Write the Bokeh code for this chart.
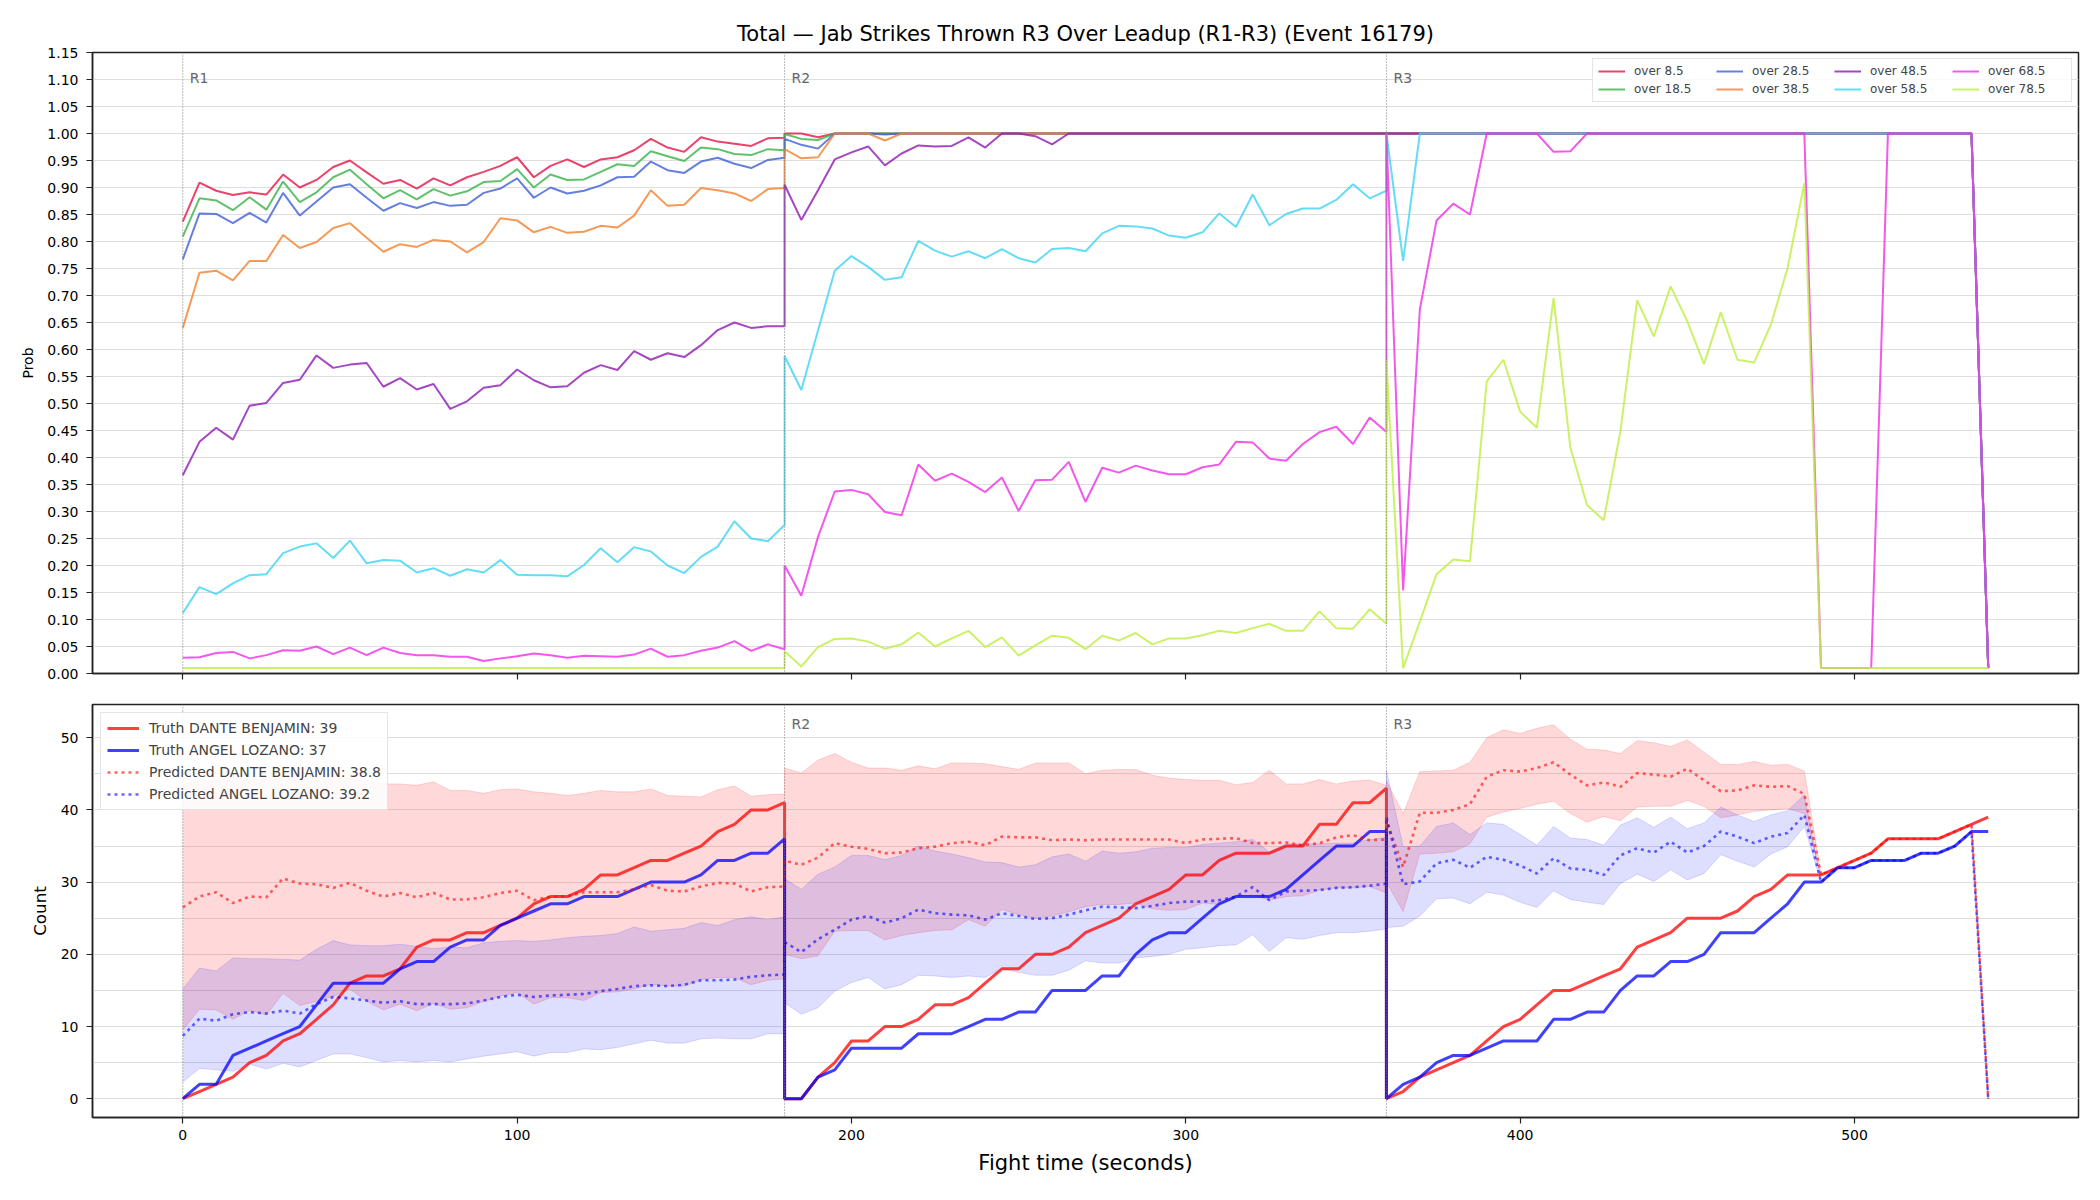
from bokeh.plotting import figure
from bokeh.models import (Range1d, FixedTicker, Span, Label, Legend, LegendItem,
                          NumeralTickFormatter)
from bokeh.layouts import column
from bokeh.embed import file_html
from bokeh.resources import INLINE

FONT = "DejaVu Sans"

# ---------------- time grid (5 s sampling, each round 180 s) ----------------
t_r1 = list(range(0, 181, 5))
t_r2 = list(range(180, 361, 5))
t_r3 = list(range(360, 541, 5))
t_all = t_r1 + t_r2 + t_r3

round_starts = [0, 180, 360]
round_names = ["R1", "R2", "R3"]
x_ticks = [0, 100, 200, 300, 400, 500]
prob_ticks = [0.00, 0.05, 0.10, 0.15, 0.20, 0.25, 0.30, 0.35, 0.40, 0.45, 0.50, 0.55,
              0.60, 0.65, 0.70, 0.75, 0.80, 0.85, 0.90, 0.95, 1.00, 1.05, 1.10, 1.15]
count_ticks = [0, 10, 20, 30, 40, 50]
count_minor = [0, 5, 10, 15, 20, 25, 30, 35, 40, 45, 50]

# ---------------- top panel: probabilities ----------------
line_names = ["over 8.5", "over 18.5", "over 28.5", "over 38.5",
              "over 48.5", "over 58.5", "over 68.5", "over 78.5"]
line_colors = ["#e6194b", "#3cb44b", "#4363d8", "#f58231",
               "#911eb4", "#42d4f4", "#f032e6", "#bfef45"]

o85_r1 = [0.837, 0.909, 0.894, 0.886, 0.891, 0.887, 0.924, 0.900, 0.914, 0.938, 0.950, 0.928,
          0.907, 0.914, 0.898, 0.917, 0.904, 0.919, 0.929, 0.940, 0.956, 0.919, 0.940, 0.952,
          0.938, 0.952, 0.956, 0.969, 0.990, 0.974, 0.966, 0.993, 0.985, 0.981, 0.977, 0.991, 0.992]
o85_r2 = [1.000, 1.000, 0.993, 1.000, 1.000, 1.000, 1.000, 1.000, 1.000, 1.000, 1.000, 1.000,
          1.000, 1.000, 1.000, 1.000, 1.000, 1.000, 1.000, 1.000, 1.000, 1.000, 1.000, 1.000,
          1.000, 1.000, 1.000, 1.000, 1.000, 1.000, 1.000, 1.000, 1.000, 1.000, 1.000, 1.000, 1.000]
o85_r3 = [1.000, 1.000, 1.000, 1.000, 1.000, 1.000, 1.000, 1.000, 1.000, 1.000, 1.000, 1.000,
          1.000, 1.000, 1.000, 1.000, 1.000, 1.000, 1.000, 1.000, 1.000, 1.000, 1.000, 1.000,
          1.000, 1.000, 1.000, 1.000, 1.000, 1.000, 1.000, 1.000, 1.000, 1.000, 1.000, 1.000, 0.010]

o185_r1 = [0.809, 0.880, 0.876, 0.858, 0.882, 0.859, 0.911, 0.873, 0.891, 0.919, 0.933, 0.906,
           0.880, 0.895, 0.878, 0.897, 0.885, 0.893, 0.910, 0.912, 0.934, 0.900, 0.924, 0.914,
           0.915, 0.929, 0.943, 0.940, 0.967, 0.958, 0.949, 0.974, 0.971, 0.962, 0.960, 0.971, 0.969]
o185_r2 = [0.999, 0.990, 0.988, 1.000, 1.000, 1.000, 1.000, 1.000, 1.000, 1.000, 1.000, 1.000,
           1.000, 1.000, 1.000, 1.000, 1.000, 1.000, 1.000, 1.000, 1.000, 1.000, 1.000, 1.000,
           1.000, 1.000, 1.000, 1.000, 1.000, 1.000, 1.000, 1.000, 1.000, 1.000, 1.000, 1.000, 1.000]
o185_r3 = [1.000, 1.000, 1.000, 1.000, 1.000, 1.000, 1.000, 1.000, 1.000, 1.000, 1.000, 1.000,
           1.000, 1.000, 1.000, 1.000, 1.000, 1.000, 1.000, 1.000, 1.000, 1.000, 1.000, 1.000,
           1.000, 1.000, 1.000, 1.000, 1.000, 1.000, 1.000, 1.000, 1.000, 1.000, 1.000, 1.000, 0.010]

o285_r1 = [0.767, 0.852, 0.851, 0.834, 0.853, 0.835, 0.890, 0.848, 0.874, 0.900, 0.906, 0.881,
           0.857, 0.871, 0.862, 0.873, 0.866, 0.868, 0.890, 0.898, 0.917, 0.881, 0.900, 0.889,
           0.894, 0.904, 0.919, 0.920, 0.948, 0.932, 0.927, 0.948, 0.955, 0.944, 0.936, 0.951, 0.955]
o285_r2 = [0.990, 0.979, 0.972, 1.000, 1.000, 1.000, 0.998, 1.000, 1.000, 1.000, 1.000, 1.000,
           1.000, 1.000, 1.000, 1.000, 1.000, 1.000, 1.000, 1.000, 1.000, 1.000, 1.000, 1.000,
           1.000, 1.000, 1.000, 1.000, 1.000, 1.000, 1.000, 1.000, 1.000, 1.000, 1.000, 1.000, 1.000]
o285_r3 = [1.000, 1.000, 1.000, 1.000, 1.000, 1.000, 1.000, 1.000, 1.000, 1.000, 1.000, 1.000,
           1.000, 1.000, 1.000, 1.000, 1.000, 1.000, 1.000, 1.000, 1.000, 1.000, 1.000, 1.000,
           1.000, 1.000, 1.000, 1.000, 1.000, 1.000, 1.000, 1.000, 1.000, 1.000, 1.000, 1.000, 0.010]

o385_r1 = [0.640, 0.742, 0.746, 0.728, 0.764, 0.764, 0.812, 0.788, 0.799, 0.825, 0.834, 0.807,
           0.781, 0.795, 0.790, 0.803, 0.800, 0.780, 0.799, 0.843, 0.839, 0.817, 0.827, 0.816,
           0.818, 0.829, 0.826, 0.848, 0.895, 0.866, 0.868, 0.899, 0.895, 0.889, 0.875, 0.897, 0.899]
o385_r2 = [0.971, 0.954, 0.956, 1.000, 1.000, 1.000, 0.987, 1.000, 1.000, 1.000, 1.000, 1.000,
           1.000, 1.000, 1.000, 1.000, 1.000, 1.000, 1.000, 1.000, 1.000, 1.000, 1.000, 1.000,
           1.000, 1.000, 1.000, 1.000, 1.000, 1.000, 1.000, 1.000, 1.000, 1.000, 1.000, 1.000, 1.000]
o385_r3 = [1.000, 1.000, 1.000, 1.000, 1.000, 1.000, 1.000, 1.000, 1.000, 1.000, 1.000, 1.000,
           1.000, 1.000, 1.000, 1.000, 1.000, 1.000, 1.000, 1.000, 1.000, 1.000, 1.000, 1.000,
           1.000, 1.000, 1.000, 1.000, 1.000, 1.000, 1.000, 1.000, 1.000, 1.000, 1.000, 1.000, 0.010]

o485_r1 = [0.367, 0.429, 0.455, 0.433, 0.496, 0.501, 0.538, 0.544, 0.589, 0.566, 0.572, 0.575,
           0.531, 0.547, 0.526, 0.536, 0.490, 0.504, 0.529, 0.534, 0.563, 0.543, 0.530, 0.532,
           0.557, 0.571, 0.562, 0.597, 0.581, 0.593, 0.586, 0.608, 0.636, 0.650, 0.640, 0.643, 0.643]
o485_r2 = [0.905, 0.840, 0.895, 0.952, 0.965, 0.976, 0.941, 0.963, 0.978, 0.976, 0.977, 0.993,
           0.974, 1.000, 1.000, 0.995, 0.980, 1.000, 1.000, 1.000, 1.000, 1.000, 1.000, 1.000,
           1.000, 1.000, 1.000, 1.000, 1.000, 1.000, 1.000, 1.000, 1.000, 1.000, 1.000, 1.000, 1.000]
o485_r3 = [1.000, 1.000, 1.000, 1.000, 1.000, 1.000, 1.000, 1.000, 1.000, 1.000, 1.000, 1.000,
           1.000, 1.000, 1.000, 1.000, 1.000, 1.000, 1.000, 1.000, 1.000, 1.000, 1.000, 1.000,
           1.000, 1.000, 1.000, 1.000, 1.000, 1.000, 1.000, 1.000, 1.000, 1.000, 1.000, 1.000, 0.010]

o585_r1 = [0.112, 0.160, 0.147, 0.167, 0.182, 0.184, 0.223, 0.235, 0.241, 0.214, 0.246, 0.204,
           0.210, 0.209, 0.187, 0.195, 0.181, 0.193, 0.187, 0.210, 0.183, 0.182, 0.182, 0.180,
           0.201, 0.232, 0.206, 0.234, 0.226, 0.200, 0.186, 0.216, 0.235, 0.282, 0.250, 0.245, 0.275]
o585_r2 = [0.588, 0.525, 0.635, 0.746, 0.773, 0.753, 0.729, 0.734, 0.801, 0.783, 0.772, 0.782,
           0.769, 0.786, 0.769, 0.761, 0.786, 0.788, 0.782, 0.815, 0.829, 0.828, 0.824, 0.811,
           0.807, 0.817, 0.852, 0.827, 0.887, 0.830, 0.851, 0.861, 0.861, 0.877, 0.906, 0.880, 0.894]
o585_r3 = [1.000, 0.764, 1.000, 1.000, 1.000, 1.000, 1.000, 1.000, 1.000, 1.000, 1.000, 1.000,
           1.000, 1.000, 1.000, 1.000, 1.000, 1.000, 1.000, 1.000, 1.000, 1.000, 1.000, 1.000,
           1.000, 1.000, 1.000, 1.000, 1.000, 1.000, 1.000, 1.000, 1.000, 1.000, 1.000, 1.000, 0.010]

o685_r1 = [0.029, 0.030, 0.038, 0.040, 0.028, 0.034, 0.043, 0.042, 0.050, 0.036, 0.048, 0.034,
           0.048, 0.038, 0.034, 0.034, 0.031, 0.031, 0.023, 0.028, 0.032, 0.037, 0.034, 0.029,
           0.033, 0.032, 0.031, 0.035, 0.046, 0.031, 0.034, 0.042, 0.048, 0.060, 0.042, 0.054, 0.045]
o685_r2 = [0.200, 0.144, 0.253, 0.337, 0.340, 0.332, 0.299, 0.293, 0.387, 0.357, 0.370, 0.355,
           0.336, 0.363, 0.301, 0.358, 0.359, 0.392, 0.318, 0.381, 0.372, 0.385, 0.376, 0.369,
           0.369, 0.382, 0.387, 0.429, 0.428, 0.398, 0.394, 0.425, 0.447, 0.457, 0.425, 0.474, 0.447]
o685_r3 = [1.000, 0.154, 0.674, 0.839, 0.870, 0.850, 1.000, 1.000, 1.000, 1.000, 0.966, 0.967,
           1.000, 1.000, 1.000, 1.000, 1.000, 1.000, 1.000, 1.000, 1.000, 1.000, 1.000, 1.000,
           1.000, 1.000, 0.010, 0.010, 0.010, 0.010, 1.000, 1.000, 1.000, 1.000, 1.000, 1.000, 0.010]

o785_r1 = [0.010, 0.010, 0.010, 0.010, 0.010, 0.010, 0.010, 0.010, 0.010, 0.010, 0.010, 0.010,
           0.010, 0.010, 0.010, 0.010, 0.010, 0.010, 0.010, 0.010, 0.010, 0.010, 0.010, 0.010,
           0.010, 0.010, 0.010, 0.010, 0.010, 0.010, 0.010, 0.010, 0.010, 0.010, 0.010, 0.010, 0.010]
o785_r2 = [0.041, 0.013, 0.049, 0.064, 0.065, 0.059, 0.046, 0.054, 0.076, 0.050, 0.065, 0.079,
           0.049, 0.067, 0.033, 0.052, 0.070, 0.066, 0.045, 0.070, 0.061, 0.075, 0.054, 0.065,
           0.065, 0.071, 0.079, 0.075, 0.084, 0.092, 0.079, 0.079, 0.115, 0.084, 0.083, 0.119, 0.092]
o785_r3 = [0.580, 0.010, 0.096, 0.184, 0.211, 0.208, 0.541, 0.581, 0.485, 0.455, 0.695, 0.419,
           0.312, 0.284, 0.449, 0.691, 0.624, 0.717, 0.652, 0.573, 0.669, 0.581, 0.576, 0.646,
           0.751, 0.908, 0.010, 0.010, 0.010, 0.010, 0.010, 0.010, 0.010, 0.010, 0.010, 0.010, 0.010]

prob_series = [o85_r1 + o85_r2 + o85_r3, o185_r1 + o185_r2 + o185_r3,
               o285_r1 + o285_r2 + o285_r3, o385_r1 + o385_r2 + o385_r3,
               o485_r1 + o485_r2 + o485_r3, o585_r1 + o585_r2 + o585_r3,
               o685_r1 + o685_r2 + o685_r3, o785_r1 + o785_r2 + o785_r3]

# ---------------- bottom panel: counts ----------------
truth_dante_r1 = [0, 1, 2, 3, 5, 6, 8, 9, 11, 13, 16, 17, 17, 18, 21, 22, 22, 23, 23, 24, 25, 27,
                  28, 28, 29, 31, 31, 32, 33, 33, 34, 35, 37, 38, 40, 40, 41]
truth_dante_r2 = [0, 0, 3, 5, 8, 8, 10, 10, 11, 13, 13, 14, 16, 18, 18, 20, 20, 21, 23, 24, 25, 27,
                  28, 29, 31, 31, 33, 34, 34, 34, 35, 35, 38, 38, 41, 41, 43]
truth_dante_r3 = [0, 1, 3, 4, 5, 6, 8, 10, 11, 13, 15, 15, 16, 17, 18, 21, 22, 23, 25, 25, 25, 26,
                  28, 29, 31, 31, 31, 32, 33, 34, 36, 36, 36, 36, 37, 38, 39]

truth_angel_r1 = [0, 2, 2, 6, 7, 8, 9, 10, 13, 16, 16, 16, 16, 18, 19, 19, 21, 22, 22, 24, 25, 26,
                  27, 27, 28, 28, 28, 29, 30, 30, 30, 31, 33, 33, 34, 34, 36]
truth_angel_r2 = [0, 0, 3, 4, 7, 7, 7, 7, 9, 9, 9, 10, 11, 11, 12, 12, 15, 15, 15, 17, 17, 20,
                  22, 23, 23, 25, 27, 28, 28, 28, 29, 31, 33, 35, 35, 37, 37]
truth_angel_r3 = [0, 2, 3, 5, 6, 6, 7, 8, 8, 8, 11, 11, 12, 12, 15, 17, 17, 19, 19, 20, 23, 23,
                  23, 25, 27, 30, 30, 32, 32, 33, 33, 33, 34, 34, 35, 37, 37]

pred_dante_r1 = [26.5, 28.0, 28.6, 27.1, 28.0, 27.9, 30.5, 29.8, 29.7, 29.2, 29.9, 28.8, 28.0,
                 28.5, 27.9, 28.5, 27.6, 27.6, 27.9, 28.5, 28.8, 27.5, 28.0, 28.0, 28.6, 28.6,
                 28.6, 29.0, 29.6, 28.8, 28.7, 29.4, 29.9, 29.8, 28.7, 29.3, 29.4]
pred_dante_r2 = [33.0, 32.4, 33.4, 35.4, 34.9, 34.6, 34.0, 34.1, 34.7, 34.9, 35.4, 35.6, 35.1,
                 36.3, 36.2, 36.2, 35.8, 35.9, 35.8, 35.9, 35.9, 35.9, 35.9, 35.9, 35.4, 35.9,
                 36.0, 36.1, 35.4, 35.4, 35.5, 35.1, 35.4, 36.2, 36.5, 35.8, 35.9]
pred_dante_r3 = [38.5, 32.1, 39.6, 39.6, 40.0, 40.8, 44.6, 45.5, 45.3, 45.8, 46.6, 44.9, 43.4,
                 43.8, 43.2, 45.1, 44.9, 44.6, 45.7, 44.1, 42.6, 42.7, 43.4, 43.2, 43.3, 42.2,
                 31.0, 32.0, 33.0, 34.0, 36.0, 36.0, 36.0, 36.0, 37.0, 38.0, 0.0]

pred_angel_r1 = [8.7, 11.1, 10.8, 11.7, 12.0, 11.8, 12.2, 11.8, 13.1, 14.1, 13.9, 13.6, 13.3,
                 13.5, 13.1, 13.1, 13.1, 13.2, 13.6, 14.1, 14.4, 14.1, 14.3, 14.4, 14.5, 14.9,
                 15.2, 15.6, 15.7, 15.6, 15.8, 16.4, 16.4, 16.5, 16.9, 17.1, 17.2]
pred_angel_r2 = [21.7, 20.3, 22.1, 23.4, 24.8, 25.3, 24.4, 25.0, 26.2, 25.7, 25.5, 25.4, 24.8,
                 25.7, 25.3, 24.9, 25.0, 25.5, 26.1, 26.6, 26.5, 26.4, 26.7, 27.1, 27.3, 27.3,
                 27.5, 28.0, 29.3, 27.5, 28.7, 28.8, 28.9, 29.2, 29.3, 29.5, 29.8]
pred_angel_r3 = [39.0, 29.7, 30.1, 32.6, 33.1, 32.0, 33.5, 33.1, 32.3, 31.2, 33.3, 31.9, 31.7,
                 31.0, 33.7, 34.7, 34.1, 35.6, 34.1, 35.0, 37.0, 36.3, 35.4, 36.3, 36.8, 39.3,
                 30.0, 32.0, 32.0, 33.0, 33.0, 33.0, 34.0, 34.0, 35.0, 37.0, 0.0]

band_dante_hi_r1 = [43.5, 44.2, 44.0, 44.6, 44.1, 44.4, 44.8, 44.2, 44.5, 44.9, 44.3, 44.0, 43.6,
                    43.6, 43.4, 43.9, 42.7, 42.7, 42.3, 42.8, 42.9, 42.5, 42.3, 42.0, 42.3, 42.7,
                    42.5, 42.5, 42.9, 42.0, 41.9, 41.8, 42.8, 43.3, 41.9, 42.1, 42.2]
band_dante_hi_r2 = [45.8, 45.1, 46.9, 47.8, 46.6, 45.8, 45.8, 45.5, 46.1, 45.7, 46.5, 46.5, 46.4,
                    46.0, 45.6, 46.5, 46.5, 46.5, 45.0, 45.5, 45.6, 45.6, 44.8, 44.4, 44.2, 44.1,
                    44.1, 43.5, 43.8, 45.5, 43.6, 43.6, 44.2, 43.6, 44.0, 44.1, 43.4]
band_dante_hi_r3 = [44.0, 39.5, 45.3, 45.4, 45.5, 46.6, 50.0, 51.1, 50.6, 51.3, 51.8, 49.8, 48.4,
                    48.3, 47.8, 49.6, 49.3, 48.8, 49.7, 48.0, 46.3, 46.3, 46.7, 46.2, 46.3, 45.4]
band_dante_lo_r1 = [9.5, 12.4, 12.3, 11.0, 12.2, 11.6, 14.6, 12.9, 13.5, 14.2, 15.2, 13.5, 12.3,
                    13.1, 12.2, 13.2, 12.4, 12.6, 13.5, 14.2, 14.7, 13.1, 14.0, 14.0, 13.6, 14.7,
                    14.8, 15.2, 15.8, 15.6, 15.6, 16.5, 16.8, 16.8, 15.8, 16.4, 16.6]
band_dante_lo_r2 = [20.0, 19.4, 19.8, 23.2, 23.3, 23.3, 22.0, 22.6, 23.0, 23.3, 23.4, 24.8, 23.9,
                    26.2, 25.5, 25.0, 25.3, 25.9, 26.6, 26.9, 26.9, 27.1, 26.3, 26.1, 26.2, 27.1,
                    26.9, 28.0, 28.2, 27.5, 28.0, 28.1, 28.9, 29.2, 29.2, 29.4, 28.5]
band_dante_lo_r3 = [30.0, 25.9, 33.9, 34.0, 34.2, 35.3, 39.0, 39.7, 40.2, 40.8, 41.2, 39.5, 38.3,
                    39.1, 38.5, 40.4, 40.5, 40.5, 41.3, 40.5, 38.9, 39.3, 39.8, 40.0, 40.2, 39.5]

band_angel_hi_r1 = [15.2, 18.1, 17.7, 19.5, 19.4, 19.4, 19.3, 19.2, 20.7, 21.9, 21.3, 21.2, 21.2,
                    21.4, 21.1, 20.8, 21.0, 20.9, 21.6, 21.8, 21.9, 21.8, 22.0, 22.3, 22.5, 22.6,
                    22.9, 23.8, 23.2, 23.4, 23.6, 24.4, 24.0, 24.8, 25.2, 24.8, 25.2]
band_angel_hi_r2 = [30.5, 29.0, 31.1, 32.1, 33.7, 33.7, 33.1, 33.7, 35.0, 34.3, 33.9, 33.4, 32.8,
                    32.7, 32.1, 32.4, 33.5, 33.9, 32.9, 34.3, 34.0, 34.2, 34.7, 34.8, 34.8, 35.2,
                    35.4, 35.6, 35.9, 34.2, 35.3, 35.3, 35.3, 35.4, 35.4, 35.9, 36.2]
band_angel_hi_r3 = [45.5, 34.9, 35.0, 37.7, 38.2, 36.6, 38.2, 38.0, 36.6, 35.1, 37.7, 36.1, 35.9,
                    35.1, 37.9, 38.9, 37.6, 39.0, 37.4, 38.2, 40.4, 39.3, 38.4, 39.3, 39.9, 42.1]
band_angel_lo_r1 = [2.3, 4.2, 4.0, 3.8, 4.8, 4.1, 4.9, 4.4, 5.3, 6.2, 6.2, 5.7, 5.1, 5.3, 5.1,
                    5.3, 5.1, 5.5, 5.9, 6.2, 6.5, 5.9, 6.4, 6.4, 6.9, 6.8, 7.1, 7.6, 8.1, 7.7,
                    7.7, 8.3, 8.4, 8.3, 8.3, 9.0, 9.0]
band_angel_lo_r2 = [13.3, 11.7, 12.6, 14.9, 16.1, 16.8, 15.2, 15.8, 17.1, 17.0, 16.8, 17.0, 16.8,
                    18.0, 17.5, 17.1, 17.1, 17.8, 19.1, 18.8, 18.8, 19.5, 19.7, 20.0, 20.7, 20.9,
                    21.2, 21.3, 22.7, 20.4, 22.3, 22.1, 22.6, 23.0, 23.0, 23.2, 23.5]
band_angel_lo_r3 = [23.7, 23.9, 25.3, 27.7, 27.8, 27.0, 28.6, 28.2, 27.2, 26.5, 28.8, 27.6, 27.2,
                    26.9, 29.8, 31.1, 30.1, 31.7, 30.3, 31.2, 33.8, 32.9, 32.1, 33.9, 34.9, 37.7]

legend_labels = ["Truth DANTE BENJAMIN: 39", "Truth ANGEL LOZANO: 37",
                 "Predicted DANTE BENJAMIN: 38.8", "Predicted ANGEL LOZANO: 39.2"]

# assemble (bands collapse onto the prediction once it stops, from t=490)
n_band = len(band_dante_hi_r3)
truth_dante = truth_dante_r1 + truth_dante_r2 + truth_dante_r3
truth_angel = truth_angel_r1 + truth_angel_r2 + truth_angel_r3
pred_dante = pred_dante_r1 + pred_dante_r2 + pred_dante_r3
pred_angel = pred_angel_r1 + pred_angel_r2 + pred_angel_r3
dante_hi = band_dante_hi_r1 + band_dante_hi_r2 + band_dante_hi_r3 + pred_dante_r3[n_band:]
dante_lo = band_dante_lo_r1 + band_dante_lo_r2 + band_dante_lo_r3 + pred_dante_r3[n_band:]
angel_hi = band_angel_hi_r1 + band_angel_hi_r2 + band_angel_hi_r3 + pred_angel_r3[n_band:]
angel_lo = band_angel_lo_r1 + band_angel_lo_r2 + band_angel_lo_r3 + pred_angel_r3[n_band:]

AX_COLOR = "#222222"
GRID = "#dedede"


def style_axes(p):
    p.outline_line_color = AX_COLOR
    p.outline_line_width = 1.5
    p.background_fill_color = "white"
    p.border_fill_color = "white"
    for ax in (p.xaxis, p.yaxis):
        ax.axis_line_color = AX_COLOR
        ax.axis_line_width = 1.5
        ax.major_tick_line_color = AX_COLOR
        ax.major_tick_line_width = 1.2
        ax.major_tick_out = 6
        ax.major_tick_in = 0
        ax.minor_tick_line_color = None
        ax.major_label_text_font = FONT
        ax.major_label_text_font_size = "14px"
        ax.major_label_text_color = "black"
        ax.axis_label_text_font = FONT
        ax.axis_label_text_font_style = "normal"
        ax.axis_label_text_color = "black"
    p.yaxis.major_label_standoff = 8
    p.xaxis.major_label_standoff = 6
    p.xgrid.visible = False
    p.ygrid.grid_line_color = GRID
    p.ygrid.grid_line_width = 1


# ---------------- top figure ----------------
p1 = figure(width=2100, height=689, frame_width=1986, frame_height=621,
            x_range=Range1d(-27, 567), y_range=Range1d(0, 1.15),
            output_backend="svg", toolbar_location=None,
            min_border_left=92, min_border_right=22, min_border_top=52, min_border_bottom=16)
style_axes(p1)
p1.title.text = "Total — Jab Strikes Thrown R3 Over Leadup (R1-R3) (Event 16179)"
p1.title.align = "center"
p1.title.text_font = FONT
p1.title.text_font_size = "21px"
p1.title.text_font_style = "normal"
p1.title.text_color = "black"
p1.title.standoff = 13
p1.xaxis.ticker = FixedTicker(ticks=x_ticks)
# shared x axis: tick marks only, labels are not drawn
p1.xaxis.major_label_text_color = None
p1.xaxis.major_label_text_font_size = "1px"
p1.xaxis.major_label_standoff = 0
p1.yaxis.ticker = FixedTicker(ticks=prob_ticks)
p1.yaxis.formatter = NumeralTickFormatter(format="0.00")
p1.yaxis.axis_label = "Prob"
p1.yaxis.axis_label_text_font_size = "14px"
p1.yaxis.axis_label_standoff = 8

for rs, rn in zip(round_starts, round_names):
    p1.add_layout(Span(location=rs, dimension="height", line_color="#777777",
                       line_dash="1 2", line_width=1))
    p1.add_layout(Label(x=rs, y=1.103, x_offset=7, text=rn, text_font=FONT,
                        text_font_size="14px", text_color="#666666", text_baseline="middle"))

top_items = []
for name, col, ys in zip(line_names, line_colors, prob_series):
    r = p1.line(t_all, ys, line_color=col, line_width=2, line_alpha=0.82)
    top_items.append(LegendItem(label=name, renderers=[r]))

leg1 = Legend(items=top_items, location="top_right", orientation="vertical", nrows=2,
              label_text_font=FONT, label_text_font_size="12px", glyph_width=27,
              glyph_height=14, label_standoff=9, label_height=14, label_width=78,
              spacing=4, padding=5, margin=6, border_line_color="#cccccc",
              border_line_width=1.5, background_fill_alpha=0.85)
p1.add_layout(leg1)

# ---------------- bottom figure ----------------
p2 = figure(width=2100, height=511, frame_width=1986, frame_height=413,
            x_range=Range1d(-27, 567), y_range=Range1d(-2.6, 54.6),
            output_backend="svg", toolbar_location=None,
            min_border_left=92, min_border_right=22, min_border_top=15, min_border_bottom=83)
style_axes(p2)
p2.xaxis.ticker = FixedTicker(ticks=x_ticks)
p2.yaxis.ticker = FixedTicker(ticks=count_ticks, minor_ticks=count_minor)
p2.ygrid.minor_grid_line_color = GRID
p2.ygrid.minor_grid_line_width = 1
p2.xaxis.axis_label = "Fight time (seconds)"
p2.xaxis.axis_label_text_font_size = "21px"
p2.xaxis.axis_label_standoff = 8
p2.yaxis.axis_label = "Count"
p2.yaxis.axis_label_text_font_size = "16.7px"
p2.yaxis.axis_label_standoff = 8

p2.varea(x=t_all, y1=dante_lo, y2=dante_hi, fill_color="red", fill_alpha=0.15)
p2.line(t_all, dante_hi, line_color="red", line_alpha=0.15, line_width=1)
p2.line(t_all, dante_lo, line_color="red", line_alpha=0.15, line_width=1)
p2.varea(x=t_all, y1=angel_lo, y2=angel_hi, fill_color="blue", fill_alpha=0.13)
p2.line(t_all, angel_hi, line_color="blue", line_alpha=0.13, line_width=1)
p2.line(t_all, angel_lo, line_color="blue", line_alpha=0.13, line_width=1)

for rs, rn in zip(round_starts[1:], round_names[1:]):
    p2.add_layout(Label(x=rs, y=51.9, x_offset=7, text=rn, text_font=FONT,
                        text_font_size="14px", text_color="#666666", text_baseline="middle"))
for rs in round_starts:
    p2.add_layout(Span(location=rs, dimension="height", line_color="#777777",
                       line_dash="1 2", line_width=1))

r_td = p2.line(t_all, truth_dante, line_color="red", line_alpha=0.75, line_width=3)
r_ta = p2.line(t_all, truth_angel, line_color="blue", line_alpha=0.75, line_width=3)
r_pd = p2.line(t_all, pred_dante, line_color="red", line_alpha=0.6, line_width=2.6,
               line_dash="3 4")
r_pa = p2.line(t_all, pred_angel, line_color="blue", line_alpha=0.6, line_width=2.6,
               line_dash="3 4")

leg2 = Legend(items=[LegendItem(label=legend_labels[0], renderers=[r_td]),
                     LegendItem(label=legend_labels[1], renderers=[r_ta]),
                     LegendItem(label=legend_labels[2], renderers=[r_pd]),
                     LegendItem(label=legend_labels[3], renderers=[r_pa])],
              location="top_left", orientation="vertical",
              label_text_font=FONT, label_text_font_size="14px", glyph_width=32,
              glyph_height=16, label_standoff=10, label_height=18, spacing=4, padding=6,
              margin=8, border_line_color="#cccccc", border_line_width=1.5,
              background_fill_alpha=0.85)
p2.add_layout(leg2)

layout = column(p1, p2, spacing=0)
open("out.html", "w").write(file_html(layout, INLINE))
